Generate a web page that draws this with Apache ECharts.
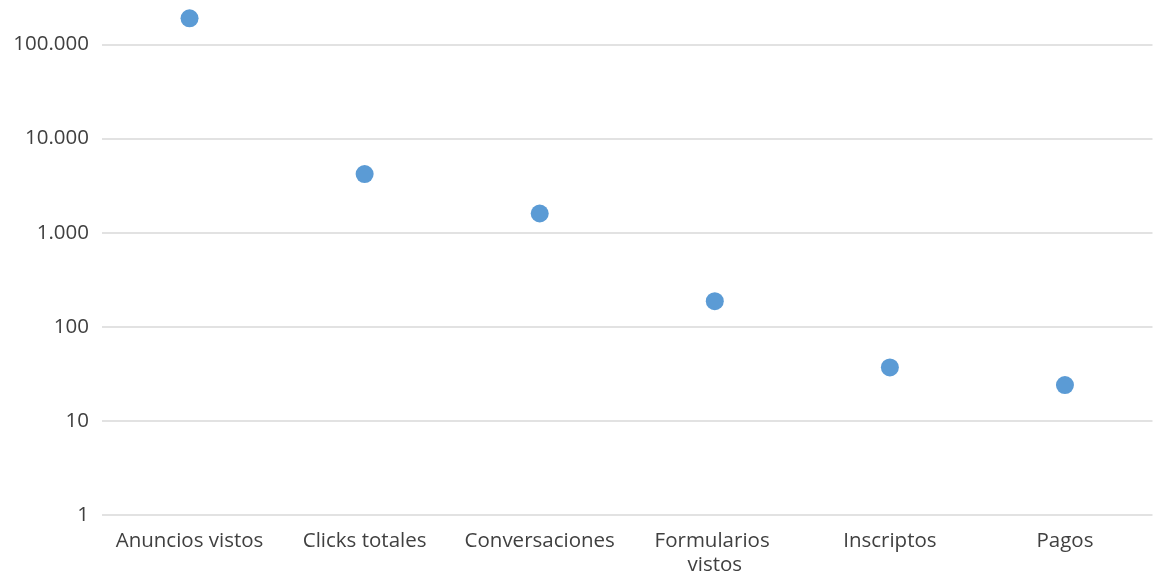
<!DOCTYPE html>
<html>
<head>
<meta charset="utf-8">
<script src="https://cdn.jsdelivr.net/npm/echarts@6/dist/echarts.min.js"></script>
<style>
  html, body { margin: 0; padding: 0; background: #ffffff; }
  #chart { width: 1153px; height: 577px; }
</style>
</head>
<body>
<div id="chart"></div>
<script>
// Funnel stages and their counts (log scale)
const categories = ['Anuncios vistos', 'Clicks totales', 'Conversaciones', 'Formularios vistos', 'Inscriptos', 'Pagos'];
const values = [190000, 4200, 1600, 187, 37, 24];
const yTicks = [1, 10, 100, 1000, 10000, 100000];

// Thousands separated with a dot
function fmt(v) {
  return String(Math.round(v)).replace(/\B(?=(\d{3})+(?!\d))/g, '.');
}

const FONT = '"Open Sans", sans-serif';
const chart = echarts.init(document.getElementById('chart'), null, { renderer: 'canvas' });

chart.setOption({
  animation: false,
  backgroundColor: '#ffffff',
  grid: { left: 102, top: 44.5, width: 1062, height: 473 },
  xAxis: {
    type: 'category',
    data: categories,
    boundaryGap: true,
    axisLine: { show: false },
    axisTick: { show: false },
    axisLabel: {
      color: '#404040',
      fontFamily: FONT,
      fontSize: 20.5,
      margin: 14,
      lineHeight: 24,
      width: 172,
      overflow: 'break',
      interval: 0
    }
  },
  yAxis: {
    type: 'log',
    logBase: 10,
    min: yTicks[0],
    max: yTicks[yTicks.length - 1],
    splitNumber: yTicks.length - 1,
    axisLine: { show: false },
    axisTick: { show: false },
    splitLine: { lineStyle: { color: '#d9d9d9', width: 1.5 } },
    axisLabel: {
      color: '#404040',
      fontFamily: FONT,
      fontSize: 20.5,
      margin: 13,
      formatter: fmt
    }
  },
  series: [{
    type: 'scatter',
    data: values,
    clip: false,
    symbol: 'circle',
    symbolSize: 18,
    itemStyle: { color: '#5b9bd5', opacity: 1 }
  }]
});
</script>
</body>
</html>
